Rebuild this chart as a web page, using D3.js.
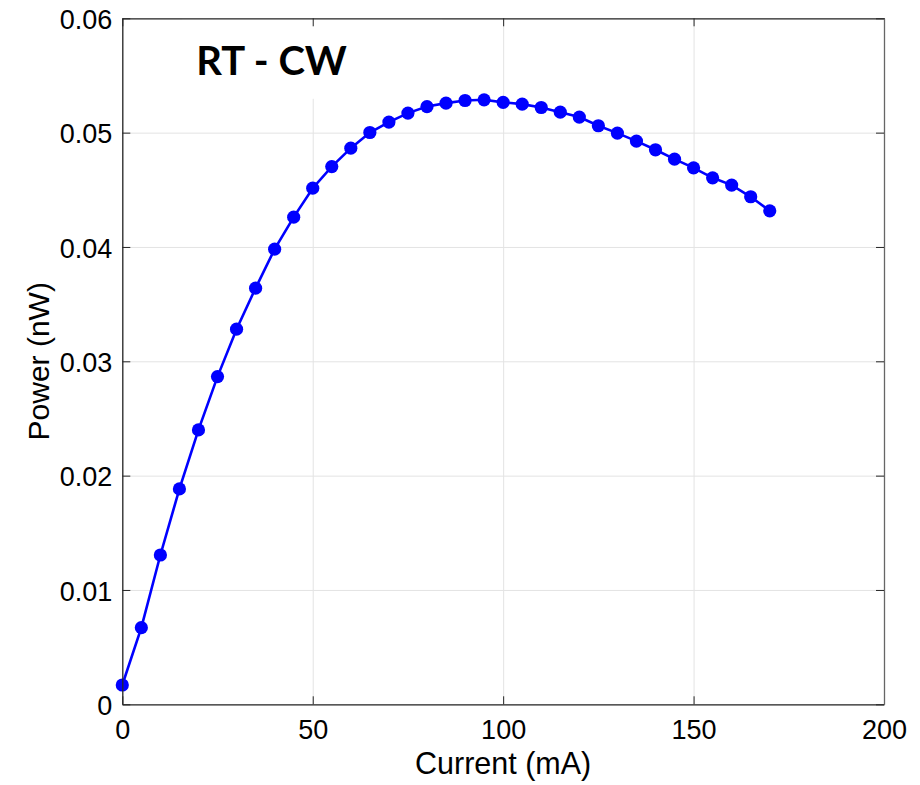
<!DOCTYPE html>
<html>
<head>
<meta charset="utf-8">
<script src="https://cdn.jsdelivr.net/npm/d3@7"></script>
<style>
  body { margin: 0; background: #fff; }
  svg { display: block; }
</style>
</head>
<body>
<div id="wrapper"></div>
<script>
// measured data: current (mA) vs power (nW)
const currentMA = [0, 5, 10, 15, 20, 25, 30, 35, 40, 45, 50, 55, 60, 65, 70, 75, 80, 85,
    90, 95, 100, 105, 110, 115, 120, 125, 130, 135, 140, 145, 150, 155, 160, 165, 170];
const powerNW = [0.00169, 0.00670, 0.01306, 0.01884, 0.02400, 0.02866, 0.03281, 0.03640,
    0.03981, 0.04261, 0.04514, 0.04703, 0.04864, 0.05001, 0.05092, 0.05171, 0.05228,
    0.05258, 0.05281, 0.05287, 0.05265, 0.05249, 0.05220, 0.05179, 0.05136, 0.05060,
    0.04996, 0.04926, 0.04850, 0.04768, 0.04692, 0.04605, 0.04541, 0.04439, 0.04316];
const xTicks = [0, 50, 100, 150, 200];
const yTicks = [0, 0.01, 0.02, 0.03, 0.04, 0.05, 0.06];
const titleText = "RT - CW";

function buildPlot() {
    const data = currentMA.map((c, i) => ({ current: c, power: powerNW[i] }));
    const xAccessor = d => d.current;
    const yAccessor = d => d.power;

    const dimension = {
        width: 920,
        height: 785,
        margin: { top: 18.3, left: 122.3, bottom: 80.7, right: 36 }
    };
    dimension.boundedWidth = dimension.width - dimension.margin.left - dimension.margin.right;
    dimension.boundedHeight = dimension.height - dimension.margin.top - dimension.margin.bottom;

    const svg = d3.select("#wrapper").append("svg")
        .attr("width", dimension.width)
        .attr("height", dimension.height)
        .style("font-family", "'Liberation Sans', Arial, Helvetica, sans-serif");

    const bounded = svg.append("g")
        .attr("transform", `translate(${dimension.margin.left}, ${dimension.margin.top})`);

    const xScaler = d3.scaleLinear().domain([0, 200]).range([0, dimension.boundedWidth]);
    const yScaler = d3.scaleLinear().domain([0, 0.06]).range([dimension.boundedHeight, 0]);

    // grid
    bounded.append("g")
        .attr("transform", `translate(0, ${dimension.boundedHeight})`)
        .call(d3.axisBottom(xScaler).tickValues(xTicks).tickSize(-dimension.boundedHeight).tickFormat(""))
        .call(g => g.select(".domain").remove())
        .call(g => g.selectAll("line").attr("stroke", "#e3e3e3").attr("stroke-width", 1));
    bounded.append("g")
        .call(d3.axisLeft(yScaler).tickValues(yTicks).tickSize(-dimension.boundedWidth).tickFormat(""))
        .call(g => g.select(".domain").remove())
        .call(g => g.selectAll("line").attr("stroke", "#e3e3e3").attr("stroke-width", 1));

    // white box behind the title hides the grid
    bounded.append("rect")
        .attr("x", 60).attr("y", 0.5)
        .attr("width", 260).attr("height", 80)
        .attr("fill", "white");

    bounded.append("text")
        .attr("x", 74)
        .attr("y", 57)
        .style("font-family", "Lato, 'Open Sans', sans-serif")
        .style("font-weight", "bold")
        .style("font-size", "40px")
        .attr("fill", "#000")
        .text(titleText);

    // line + markers
    const lineGen = d3.line()
        .x(d => xScaler(xAccessor(d)))
        .y(d => yScaler(yAccessor(d)));

    bounded.append("path")
        .attr("d", lineGen(data))
        .attr("fill", "none")
        .attr("stroke", "#0000ff")
        .attr("stroke-width", 2.6);

    bounded.selectAll("circle")
        .data(data)
        .join("circle")
        .attr("cx", d => xScaler(xAccessor(d)))
        .attr("cy", d => yScaler(yAccessor(d)))
        .attr("r", 6.6)
        .attr("fill", "#0000ff");

    // axes, ticks inside
    const axisColor = "#262626";
    const styleAxis = g => {
        g.select(".domain").attr("stroke", axisColor).attr("stroke-width", 1.3);
        g.selectAll(".tick line").attr("stroke", axisColor).attr("stroke-width", 1);
        g.selectAll(".tick text").attr("fill", "#000").style("font-size", "27px");
    };

    bounded.append("g")
        .attr("transform", `translate(0, ${dimension.boundedHeight})`)
        .call(d3.axisBottom(xScaler).tickValues(xTicks).tickSizeInner(-8).tickSizeOuter(0).tickPadding(16).tickFormat(d3.format("d")))
        .call(styleAxis)
        .call(g => g.selectAll(".tick text").attr("font-family", null));

    bounded.append("g")
        .call(d3.axisLeft(yScaler).tickValues(yTicks).tickSizeInner(-8).tickSizeOuter(0).tickPadding(10)
            .tickFormat(d => d === 0 ? "0" : d3.format(".2f")(d)))
        .call(styleAxis)
        .call(g => g.selectAll(".tick text").attr("dy", "0.38em").attr("font-family", null));

    bounded.append("g")
        .call(d3.axisTop(xScaler).tickValues(xTicks).tickSizeInner(-8).tickSizeOuter(0).tickFormat(""))
        .call(styleAxis);

    bounded.append("g")
        .attr("transform", `translate(${dimension.boundedWidth}, 0)`)
        .call(d3.axisRight(yScaler).tickValues(yTicks).tickSizeInner(-8).tickSizeOuter(0).tickFormat(""))
        .call(styleAxis)
        .call(g => g.select(".domain").attr("stroke", "#666"));

    // axis labels
    svg.append("text")
        .attr("x", dimension.margin.left + dimension.boundedWidth / 2)
        .attr("y", 774)
        .attr("text-anchor", "middle")
        .style("font-size", "30.5px")
        .text("Current (mA)");

    svg.append("text")
        .attr("transform", `translate(49, ${dimension.margin.top + dimension.boundedHeight / 2}) rotate(-90)`)
        .attr("text-anchor", "middle")
        .style("font-size", "30px")
        .text("Power (nW)");
}

buildPlot();
</script>
</body>
</html>
